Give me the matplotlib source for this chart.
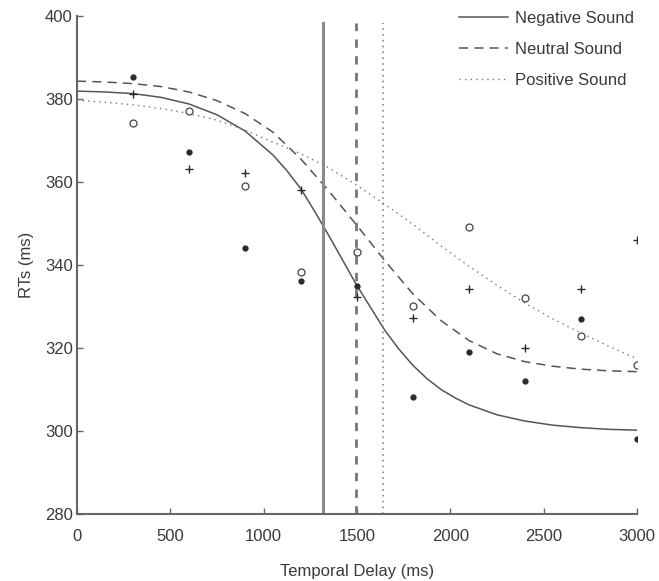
import matplotlib
matplotlib.use("Agg")
import matplotlib.pyplot as plt

plt.rcParams['font.family'] = ['Liberation Sans', 'DejaVu Sans']

# Observed data
delays = [300, 600, 900, 1200, 1500, 1800, 2100, 2400, 2700, 3000]
neg_rt = [385.4, 367.2, 344.0, 336.1, 335.0, 308.2, 319.0, 312.0, 327.0, 298.0]
neu_rt = [381.2, 363.1, 362.1, 358.1, 332.4, 327.2, 334.1, 320.0, 334.1, 346.0]
pos_rt = [374.3, 377.1, 359.1, 338.2, 343.2, 330.1, 349.2, 332.1, 323.0, 316.0]

# Fitted curves
neg_x = [0, 150, 300, 450, 600, 750, 900, 1050, 1125, 1200, 1275, 1350, 1500,
         1650, 1725, 1800, 1875, 1950, 2025, 2100, 2250, 2400, 2550, 2700, 2850, 3000]
neg_fit = [381.9, 381.7, 381.3, 380.4, 378.8, 376.2, 372.3, 366.5, 362.7, 358.3, 352.8, 347.0, 335.0,
           324.2, 319.7, 315.8, 312.6, 310.0, 308.0, 306.3, 303.9, 302.4, 301.4, 300.8, 300.4, 300.2]
curve_x = [0, 150, 300, 450, 600, 750, 900, 1050, 1200, 1350, 1500,
           1650, 1800, 1950, 2100, 2250, 2400, 2550, 2700, 2850, 3000]
neu_fit = [384.3, 384.1, 383.7, 383.0, 381.7, 379.6, 376.5, 372.0, 365.5, 357.8, 349.5,
           341.0, 333.0, 326.6, 321.8, 318.6, 316.7, 315.6, 314.9, 314.5, 314.3]
pos_fit = [379.7, 379.2, 378.6, 377.7, 376.5, 374.9, 372.5, 369.6, 366.8, 363.4, 359.2,
           354.6, 349.8, 344.6, 339.7, 335.1, 330.8, 327.0, 323.6, 320.4, 317.4]

# Thresholds (vertical lines)
thr_neg, thr_neu, thr_pos = 1320, 1495, 1641

labels = ['Negative Sound', 'Neutral Sound', 'Positive Sound']

fig = plt.figure(figsize=(6.59, 5.81), dpi=100)
ax = fig.add_axes([77/659, 1 - 514/581, 560/659, 498/581])

line_c = '#555555'
mark_c = '#2a2a2a'
txt_c = '#3a3a3a'
fs = 12

ax.plot(neg_x, neg_fit, color=line_c, lw=1.1, ls='-', label=labels[0])
ax.plot(curve_x, neu_fit, color=line_c, lw=1.1, ls=(0, (6, 4)), label=labels[1])
ax.plot(curve_x, pos_fit, color='#777777', lw=1.0, ls=(0, (1, 3)), label=labels[2])

vtop = 0.986
ax.axvline(thr_neg, ymax=vtop, color='#8a8a8a', lw=2.2, ls='-')
ax.axvline(thr_neu, ymax=vtop, color='#777777', lw=2.0, ls=(0, (3, 3)))
ax.axvline(thr_pos, ymax=vtop, color='#888888', lw=1.2, ls=(0, (1, 2.5)))

ax.plot(delays, neg_rt, ls='none', marker='o', ms=3.5, color=mark_c, mec=mark_c)
ax.plot(delays, neu_rt, ls='none', marker='+', ms=6, mew=1.0, color=mark_c)
ax.plot(delays, pos_rt, ls='none', marker='o', ms=5, mfc='white', mec='#444444', mew=0.9)

ax.set_xlim(0, 3000)
ax.set_ylim(280, 400)
ax.set_xticks([0, 500, 1000, 1500, 2000, 2500, 3000])
ax.set_yticks([280, 300, 320, 340, 360, 380, 400])

for s in ['top', 'right']:
    ax.spines[s].set_visible(False)
for s in ['left', 'bottom']:
    ax.spines[s].set_color('#666666')
    ax.spines[s].set_linewidth(1.5)

ax.tick_params(direction='in', length=4, width=1.0, color='#666666',
               labelsize=fs, labelcolor=txt_c)
ax.tick_params(axis='x', pad=11)
ax.tick_params(axis='y', pad=3)

ax.set_xlabel('Temporal Delay (ms)', fontsize=fs, color=txt_c, labelpad=14)
ax.set_ylabel('RTs (ms)', fontsize=fs, color=txt_c, labelpad=8)

leg = ax.legend(loc='upper right', bbox_to_anchor=(1.022, 1.04), frameon=False,
                handlelength=2.9, labelspacing=0.96, fontsize=fs, handletextpad=0.45)
for t in leg.get_texts():
    t.set_color(txt_c)

fig.savefig('out.png', dpi=100)
